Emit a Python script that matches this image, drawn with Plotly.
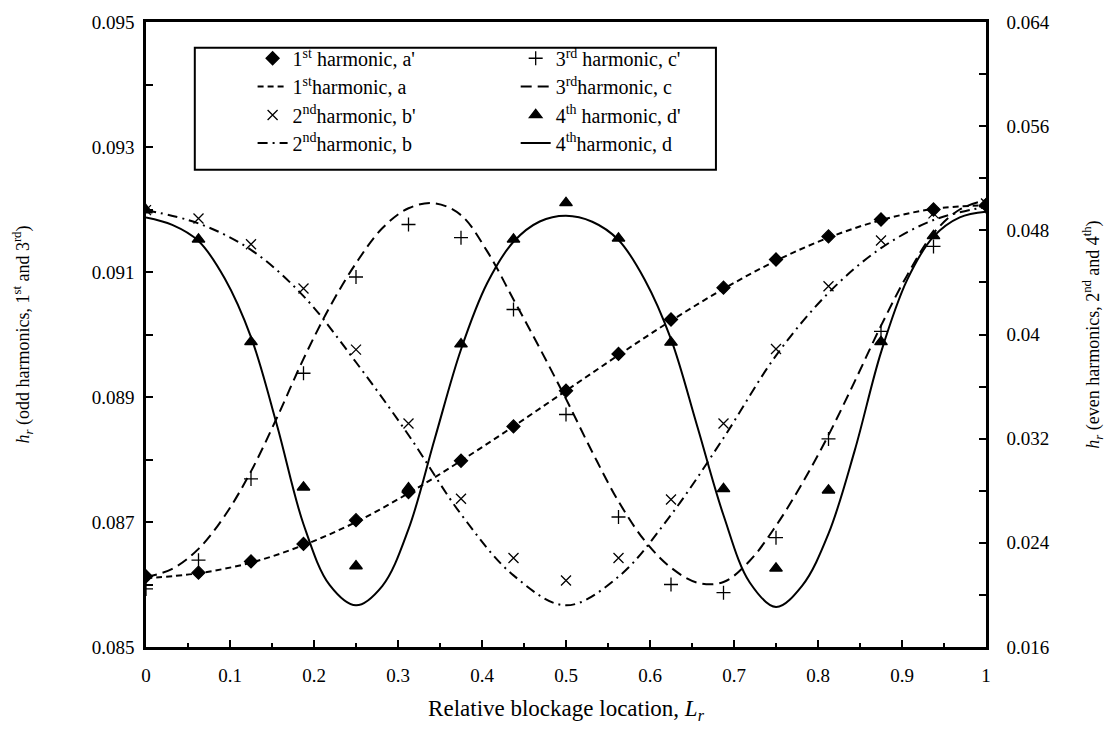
import plotly.graph_objects as go

# Relative blockage locations of the sampled points (sixteenths of the pipe)
loc_pts = [0, 0.0625, 0.125, 0.1875, 0.25, 0.3125, 0.375, 0.4375, 0.5,
           0.5625, 0.625, 0.6875, 0.75, 0.8125, 0.875, 0.9375, 1]

# Point values (primed series)
h1_pts = [0.08613, 0.08619, 0.08637, 0.08665, 0.08703, 0.08748, 0.08798, 0.08853, 0.08910,
          0.08969, 0.09024, 0.09075, 0.09120, 0.09157, 0.09184, 0.09200, 0.09207]
h2_pts = [0.04955, 0.04891, 0.04693, 0.04353, 0.03884, 0.03317, 0.02738, 0.02283, 0.02111,
          0.02283, 0.02733, 0.03317, 0.03888, 0.04371, 0.04722, 0.04930, 0.05006]
h3_pts = [0.08593, 0.08639, 0.08769, 0.08938, 0.09092, 0.09176, 0.09155, 0.09040, 0.08872,
          0.08708, 0.08600, 0.08587, 0.08675, 0.08833, 0.09005, 0.09141, 0.09205]
h4_pts = [0.04955, 0.04731, 0.03944, 0.02827, 0.02222, 0.02820, 0.03926, 0.04731, 0.05011,
          0.04739, 0.03939, 0.02814, 0.02204, 0.02804, 0.03944, 0.04757, 0.05000]

# Curve values (unprimed series)
h1_curve_x = loc_pts
h1_curve_y = [0.08610, 0.08618, 0.08635, 0.08663, 0.08700, 0.08746, 0.08798, 0.08853, 0.08910,
              0.08967, 0.09022, 0.09073, 0.09118, 0.09155, 0.09183, 0.09201, 0.09207]

h2_curve_x = loc_pts
h2_curve_y = [0.04955, 0.04853, 0.04650, 0.04295, 0.03787, 0.03228, 0.02620, 0.02150, 0.01920,
              0.02140, 0.02615, 0.03205, 0.03838, 0.04320, 0.04663, 0.04879, 0.04981]

# finer grid (thirty-seconds) for the faster-varying curves
fine_x = [0, 0.03125, 0.0625, 0.09375, 0.125, 0.15625, 0.1875, 0.21875, 0.25,
          0.28125, 0.3125, 0.34375, 0.375, 0.40625, 0.4375, 0.46875, 0.5,
          0.53125, 0.5625, 0.59375, 0.625, 0.65625, 0.6875, 0.71875, 0.75,
          0.78125, 0.8125, 0.84375, 0.875, 0.90625, 0.9375, 0.96875, 1]

h3_curve_x = fine_x
h3_curve_y = [0.08612, 0.08625, 0.08657, 0.08710, 0.08781, 0.08868, 0.08961, 0.09044, 0.09114,
              0.09170, 0.09202, 0.09210, 0.09191, 0.09133, 0.09056, 0.08978, 0.08897,
              0.08812, 0.08733, 0.08670, 0.08627, 0.08603, 0.08604, 0.08638, 0.08694,
              0.08762, 0.08839, 0.08925, 0.09014, 0.09095, 0.09162, 0.09200, 0.09215]

h4_curve_x = fine_x
h4_curve_y = [0.04899, 0.04842, 0.04718, 0.04430, 0.03980, 0.03295, 0.02543, 0.02075, 0.01920,
              0.02068, 0.02505, 0.03200, 0.03885, 0.04395, 0.04712, 0.04868, 0.04912,
              0.04866, 0.04726, 0.04421, 0.03964, 0.03295, 0.02612, 0.02095, 0.01907,
              0.02072, 0.02470, 0.03110, 0.03863, 0.04421, 0.04752, 0.04900, 0.04943]

# Axis ticks
x_ticks = [0, 0.1, 0.2, 0.3, 0.4, 0.5, 0.6, 0.7, 0.8, 0.9, 1]
x_ticktext = ["0", "0.1", "0.2", "0.3", "0.4", "0.5", "0.6", "0.7", "0.8", "0.9", "1"]
odd_ticks = [0.085, 0.087, 0.089, 0.091, 0.093, 0.095]
odd_ticktext = ["0.085", "0.087", "0.089", "0.091", "0.093", "0.095"]
even_ticks = [0.016, 0.024, 0.032, 0.04, 0.048, 0.056, 0.064]
even_ticktext = ["0.016", "0.024", "0.032", "0.04", "0.048", "0.056", "0.064"]

FONT = "Times New Roman, Liberation Serif, serif"
BLACK = "black"

fig = go.Figure()

def pts(name, x, y, symbol, size, yaxis, legend):
    return go.Scatter(
        x=x, y=y, mode="markers", name=name, yaxis=yaxis, legend=legend,
        marker=dict(symbol=symbol, size=size, color=BLACK, line=dict(color=BLACK, width=1.3)),
    )

def curve(name, x, y, dash, yaxis, legend):
    return go.Scatter(
        x=x, y=y, mode="lines", name=name, yaxis=yaxis, legend=legend,
        line=dict(color=BLACK, width=2, dash=dash, shape="spline", smoothing=1.0),
    )

# each key entry gets its own legend so the two-column key can be laid out freely
fig.add_trace(pts("1<sup>st</sup> harmonic, a'", loc_pts, h1_pts, "diamond", 10, "y", "legend"))
fig.add_trace(curve("1<sup>st</sup>harmonic, a", h1_curve_x, h1_curve_y, "6px,4px", "y", "legend2"))
fig.add_trace(pts("2<sup>nd</sup>harmonic, b'", loc_pts, h2_pts, "x-thin", 10, "y2", "legend3"))
fig.add_trace(curve("2<sup>nd</sup>harmonic, b", h2_curve_x, h2_curve_y, "10px,5px,2px,5px", "y2", "legend4"))
fig.add_trace(pts("3<sup>rd</sup> harmonic, c'", loc_pts, h3_pts, "cross-thin", 10, "y", "legend5"))
fig.add_trace(curve("3<sup>rd</sup>harmonic, c", h3_curve_x, h3_curve_y, "11px,6px", "y", "legend6"))
fig.add_trace(pts("4<sup>th</sup> harmonic, d'", loc_pts, h4_pts, "triangle-up", 11, "y2", "legend7"))
fig.add_trace(curve("4<sup>th</sup>harmonic, d", h4_curve_x, h4_curve_y, "solid", "y2", "legend8"))

tick_font = dict(family=FONT, size=19, color=BLACK)
key_font = dict(family=FONT, size=20, color=BLACK)

# key layout: two columns, four rows (paper coordinates)
key_cols = [0.1269, 0.4401]
key_rows = [0.942, 0.8969, 0.8513, 0.8064]

def key(col, row):
    return dict(x=key_cols[col], y=key_rows[row], xanchor="left", yanchor="middle",
                font=key_font, bgcolor="rgba(0,0,0,0)", borderwidth=0)

fig.update_layout(
    width=1112, height=737,
    margin=dict(l=146, r=123, t=17, b=90),
    paper_bgcolor="white", plot_bgcolor="white",
    font=dict(family=FONT, size=19, color=BLACK),
    showlegend=True,
    legend=key(0, 0), legend2=key(0, 1), legend3=key(0, 2), legend4=key(0, 3),
    legend5=key(1, 0), legend6=key(1, 1), legend7=key(1, 2), legend8=key(1, 3),
    xaxis=dict(
        range=[0, 1], tickmode="array", tickvals=x_ticks, ticktext=x_ticktext,
        ticks="inside", ticklen=7, tickwidth=2, tickcolor=BLACK,
        minor=dict(dtick=0.05, ticks="inside", ticklen=4, tickwidth=2, tickcolor=BLACK, showgrid=False),
        showline=True, linewidth=2.5, linecolor=BLACK, mirror=True,
        showgrid=False, zeroline=False, tickfont=tick_font, ticklabelstandoff=9,
        title=dict(text="Relative blockage location, <i>L<sub>r</sub></i>",
                   font=dict(family=FONT, size=23, color=BLACK), standoff=16),
    ),
    yaxis=dict(
        range=[0.085, 0.095], tickmode="array", tickvals=odd_ticks, ticktext=odd_ticktext,
        ticks="inside", ticklen=7, tickwidth=2, tickcolor=BLACK,
        minor=dict(dtick=0.001, tick0=0.085, ticks="inside", ticklen=7, tickwidth=2, tickcolor=BLACK, showgrid=False),
        showline=True, linewidth=2.5, linecolor=BLACK,
        showgrid=False, zeroline=False, tickfont=tick_font, ticklabelstandoff=5,
        title=dict(text="<i>h<sub>r</sub></i> (odd harmonics, 1<sup>st</sup> and 3<sup>rd</sup>)",
                   font=dict(family=FONT, size=18, color=BLACK), standoff=58),
    ),
    yaxis2=dict(
        range=[0.016, 0.064], tickmode="array", tickvals=even_ticks, ticktext=even_ticktext,
        overlaying="y", side="right", anchor="x",
        ticks="inside", ticklen=7, tickwidth=2, tickcolor=BLACK,
        minor=dict(dtick=0.004, tick0=0.016, ticks="inside", ticklen=7, tickwidth=2, tickcolor=BLACK, showgrid=False),
        showline=True, linewidth=2.5, linecolor=BLACK,
        showgrid=False, zeroline=False, tickfont=tick_font, ticklabelstandoff=14,
        title=dict(text="<i>h<sub>r</sub></i> (even harmonics, 2<sup>nd</sup> and 4<sup>th</sup>)",
                   font=dict(family=FONT, size=18, color=BLACK), standoff=38),
    ),
    shapes=[dict(type="rect", xref="paper", yref="paper",
                 x0=0.0581, x1=0.6785, y0=0.7635, y1=0.9587,
                 line=dict(color=BLACK, width=2), fillcolor="rgba(0,0,0,0)")],
)

fig.write_html("out.html")
